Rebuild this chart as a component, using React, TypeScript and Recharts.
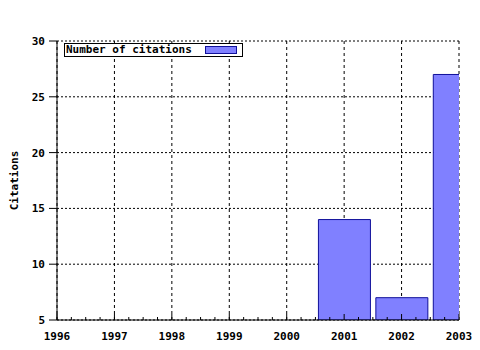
import {
  BarChart,
  Bar,
  XAxis,
  YAxis,
  CartesianGrid,
  Legend
} from 'recharts'

// citations per year
const years = [2001, 2002, 2003]
const citations = [14, 7, 27]

const yearTicks = [1996, 1997, 1998, 1999, 2000, 2001, 2002, 2003]
const quarterTicks = [
  1996, 1996.25, 1996.5, 1996.75, 1997, 1997.25, 1997.5, 1997.75,
  1998, 1998.25, 1998.5, 1998.75, 1999, 1999.25, 1999.5, 1999.75,
  2000, 2000.25, 2000.5, 2000.75, 2001, 2001.25, 2001.5, 2001.75,
  2002, 2002.25, 2002.5, 2002.75, 2003
]
const yTicks = [5, 10, 15, 20, 25, 30]

const data = years.map((year, i) => ({ year, citations: citations[i] }))

const font = '"DejaVu Sans Mono", monospace'
const barFill = '#8080ff'
const barStroke = '#10109a'

function BottomTick(props: any) {
  const { x, y, payload } = props
  const major = Number.isInteger(payload.value)
  return (
    <g>
      <line x1={x} x2={x} y1={y} y2={y - (major ? 6 : 3)} stroke="#000" />
      {major && (
        <text
          x={x}
          y={y + 20}
          textAnchor="middle"
          fontFamily={font}
          fontSize={11}
          fontWeight="bold"
          fill="#000"
        >
          {payload.value}
        </text>
      )}
    </g>
  )
}

function TopTick(props: any) {
  const { x, y, payload } = props
  const major = Number.isInteger(payload.value)
  return <line x1={x} x2={x} y1={y} y2={y + (major ? 6 : 3)} stroke="#000" />
}

function LegendBox() {
  return (
    <div
      style={{
        display: 'flex',
        alignItems: 'center',
        width: 176,
        height: 12,
        border: '1px solid #000',
        background: '#fff',
        fontFamily: font,
        fontSize: 11,
        fontWeight: 'bold',
        lineHeight: '12px',
        paddingLeft: 1
      }}
    >
      <span style={{ width: 139 }}>Number of citations</span>
      <span
        style={{
          width: 30,
          height: 6,
          background: barFill,
          border: `1px solid ${barStroke}`
        }}
      />
    </div>
  )
}

export default function App() {
  return (
    <div style={{ position: 'absolute', left: 0, top: 0, background: '#fff' }}>
      <BarChart
        width={480}
        height={350}
        data={data}
        margin={{ top: 41, right: 21, bottom: 0, left: 0 }}
      >
        <CartesianGrid
          stroke="#000"
          strokeDasharray="2 2"
          vertical={false}
          horizontalValues={yTicks}
        />
        <CartesianGrid
          stroke="#000"
          strokeDasharray="3 3"
          horizontal={false}
          verticalValues={yearTicks}
        />
        <XAxis
          dataKey="year"
          type="number"
          domain={[1996, 2003]}
          allowDataOverflow
          ticks={quarterTicks}
          interval={0}
          height={30}
          tickSize={0}
          tickMargin={0}
          tick={<BottomTick />}
          stroke="#000"
        />
        <XAxis
          xAxisId="top"
          orientation="top"
          type="number"
          domain={[1996, 2003]}
          allowDataOverflow
          ticks={quarterTicks}
          interval={0}
          height={0}
          tickSize={0}
          tickMargin={0}
          tick={<TopTick />}
          stroke="#000"
        />
        <YAxis
          type="number"
          domain={[5, 30]}
          allowDataOverflow
          ticks={yTicks}
          interval={0}
          width={57}
          tickSize={8}
          tickMargin={4}
          stroke="#000"
          tick={{ fontFamily: font, fontSize: 11, fontWeight: 'bold', fill: '#000' }}
          label={{
            value: 'Citations',
            angle: -90,
            position: 'insideLeft',
            offset: 14,
            style: {
              textAnchor: 'middle',
              fontFamily: font,
              fontSize: 11,
              fontWeight: 'bold',
              fill: '#000'
            }
          }}
        />
        <YAxis
          yAxisId="right"
          orientation="right"
          domain={[5, 30]}
          width={0}
          tick={false}
          tickLine={false}
          stroke="#000"
        />
        <Legend
          layout="vertical"
          align="center"
          verticalAlign="middle"
          content={<LegendBox />}
          wrapperStyle={{ left: 64, top: 43, width: 'auto' }}
        />
        <Bar
          dataKey="citations"
          name="Number of citations"
          fill={barFill}
          stroke={barStroke}
          barSize={52}
          isAnimationActive={false}
        />
      </BarChart>
    </div>
  )
}
